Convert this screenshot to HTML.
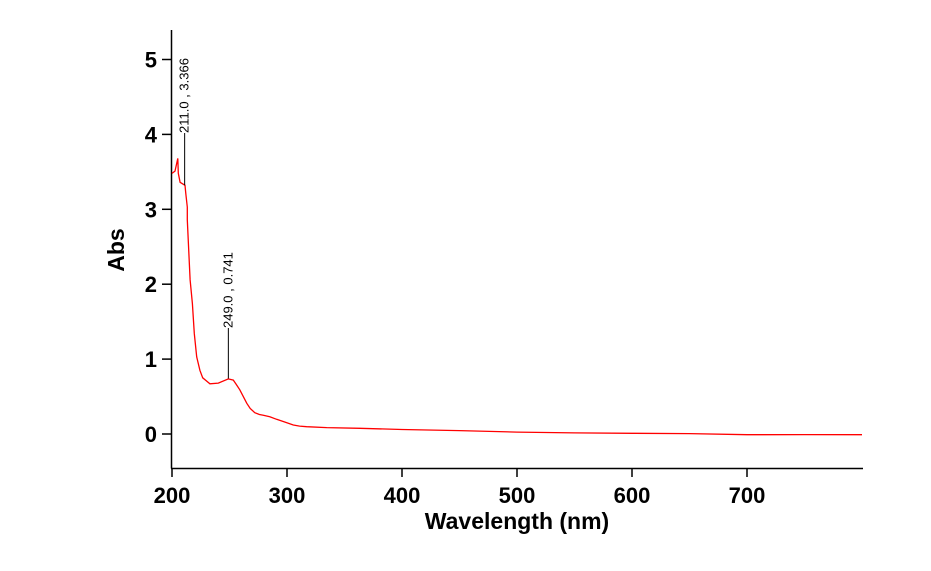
<!DOCTYPE html>
<html><head><meta charset="utf-8"><style>
html,body{margin:0;padding:0;background:#fff;}
svg{display:block;font-family:"Liberation Sans",sans-serif;}
</style></head><body>
<svg id="chart" width="931" height="571" viewBox="0 0 931 571"></svg>
<script>
const xTicks=[200,300,400,500,600,700];
const yTicks=[0,1,2,3,4,5];
const wavelengths=[200,202.6,205,205.5,207,211.3,212,213.3,213.3,215.7,217.7,219.4,221.5,224.3,226.7,233,240.3,249,253.3,256,259,262,265,268,272,276,279.4,285,291,298,305.5,311,317,334.5,363.5,400,450,500,550,600,650,700,750,800];
const absorbance=[3.48,3.51,3.68,3.48,3.36,3.32,3.21,3.03,2.86,2.06,1.74,1.34,1.03,0.85,0.75,0.67,0.68,0.735,0.72,0.66,0.59,0.5,0.41,0.34,0.285,0.26,0.25,0.23,0.196,0.16,0.12,0.105,0.098,0.085,0.076,0.06,0.045,0.025,0.015,0.01,0.005,-0.01,-0.008,-0.01];
const peakWl=[211.0,249.0];
const peakAbs=[3.366,0.741];
const peakLabels=["211.0 , 3.366","249.0 , 0.741"];

const NS="http://www.w3.org/2000/svg";
const svg=document.getElementById('chart');
const x0=172,xPer=1.15,y0=434,yPer=74.9;
function sx(v){return x0+(v-200)*xPer;}
function sy(v){return y0-v*yPer;}
function mk(t,a){const e=document.createElementNS(NS,t);for(const k in a)e.setAttribute(k,a[k]);svg.appendChild(e);return e;}

let e;
e=mk('line',{x1:171.5,y1:30,x2:171.5,y2:468.5,stroke:'#000','stroke-width':1.5});


e=mk('line',{x1:171,y1:468.5,x2:863,y2:468.5,stroke:'#000','stroke-width':1.5});



xTicks.forEach(v=>{
  const X=sx(v);
  e=mk('line',{x1:X,y1:468,x2:X,y2:477,stroke:'#000','stroke-width':1.5});
  
  
  e=mk('text',{x:X,y:503,'text-anchor':'middle','font-size':22,'font-weight':'bold'});
  e.textContent=v;
  
  
});
yTicks.forEach(v=>{
  const Y=sy(v);
  e=mk('line',{x1:162,y1:Y,x2:172,y2:Y,stroke:'#000','stroke-width':1.5});
  
  
  e=mk('text',{x:157,y:Y+8,'text-anchor':'end','font-size':22,'font-weight':'bold'});
  e.textContent=v;
  
  
});

e=mk('text',{x:124,y:250,'text-anchor':'middle','font-size':23,'font-weight':'bold',transform:'rotate(-90 124 250)'});
e.textContent='Abs';


e=mk('text',{x:517,y:529,'text-anchor':'middle','font-size':23,'font-weight':'bold'});
e.textContent='Wavelength (nm)';



const pts=wavelengths.map((w,i)=>sx(w).toFixed(1)+','+sy(absorbance[i]).toFixed(1)).join(' ');
e=mk('polyline',{points:pts,fill:'none',stroke:'#ff0000','stroke-width':1.3});



const tops=[133,328];
peakWl.forEach((w,i)=>{
  const X=sx(w),Yb=sy(peakAbs[i]>3?3.32:peakAbs[i]);
  e=mk('line',{x1:X,y1:Yb,x2:X,y2:tops[i],stroke:'#000','stroke-width':1});
  
  
  e=mk('text',{x:X+4,y:tops[i],'font-size':13,transform:`rotate(-90 ${X+4} ${tops[i]})`});
  e.textContent=peakLabels[i];
  
  
});
</script>
</body></html>
